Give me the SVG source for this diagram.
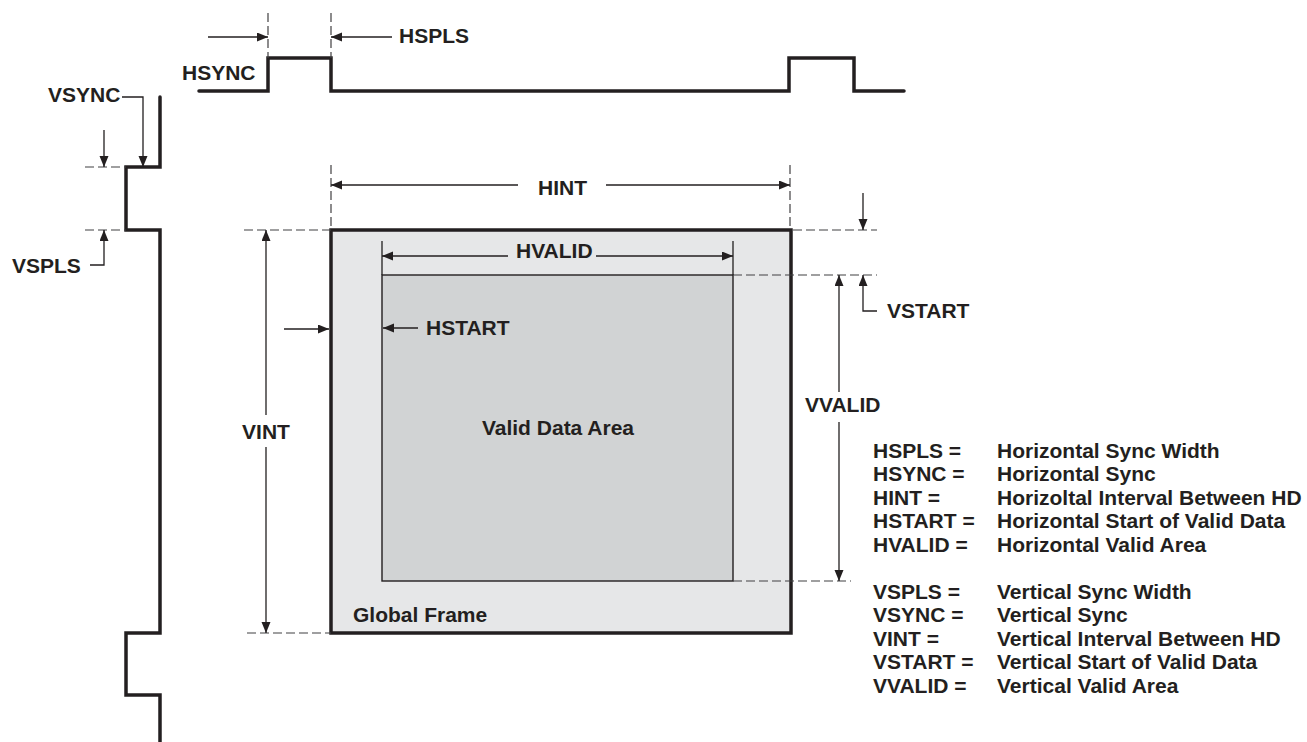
<svg xmlns="http://www.w3.org/2000/svg" width="1307" height="742" viewBox="0 0 1307 742">
<style>
text{font-family:"Liberation Sans",Arial,sans-serif;font-weight:bold;font-size:21px;fill:#231f20}
.w{fill:none;stroke:#231f20;stroke-width:3.5;stroke-linejoin:miter;stroke-linecap:round}
.d{fill:none;stroke:#414042;stroke-width:1.2;stroke-dasharray:9 4}
.a{fill:none;stroke:#231f20;stroke-width:1.3}
.c{text-anchor:middle}
</style>
<defs>
<marker id="ah" markerUnits="userSpaceOnUse" markerWidth="12" markerHeight="10" refX="11" refY="4.5" orient="auto">
<path d="M0,0 L11,4.5 L0,9 z" fill="#231f20"/>
</marker>
</defs>
<rect width="1307" height="742" fill="#fff"/>

<g id="frame">
<rect x="331" y="230" width="460" height="403" fill="#e6e7e8" stroke="#231f20" stroke-width="3.5"/>
<text x="353" y="622">Global Frame</text>
</g>
<g id="valid-area">
<rect x="382" y="275" width="351" height="306" fill="#d1d3d4" stroke="#231f20" stroke-width="1.4"/>
<text class="c" x="558" y="435">Valid Data Area</text>
</g>

<g id="hsync-wave">
<polyline class="w" points="199,91 268,91 268,58 331,58 331,91 789,91 789,58 854,58 854,91 904,91"/>
<text x="182" y="80">HSYNC</text>
</g>
<g id="vsync-wave">
<polyline class="w" points="160,97 160,167 126,167 126,230 160,230 160,633 126,633 126,695 160,695 160,745"/>
<text x="48" y="102">VSYNC</text>
</g>

<g id="connectors">
<line class="d" x1="268" y1="13" x2="268" y2="58"/>
<line class="d" x1="331" y1="13" x2="331" y2="58"/>
<line class="d" x1="331" y1="165" x2="331" y2="230"/>
<line class="d" x1="790" y1="165" x2="790" y2="230"/>
<line class="d" x1="85" y1="167" x2="126" y2="167"/>
<line class="d" x1="85" y1="230" x2="126" y2="230"/>
<line class="d" x1="244" y1="230" x2="331" y2="230"/>
<line class="d" x1="247" y1="633" x2="331" y2="633"/>
<line class="d" x1="793" y1="230" x2="877" y2="230"/>
<line class="d" x1="733" y1="275" x2="877" y2="275"/>
<line class="d" x1="733" y1="581" x2="851" y2="581"/>

<line class="a" x1="208" y1="37" x2="268" y2="37" marker-end="url(#ah)"/>
<line class="a" x1="392" y1="37" x2="331" y2="37" marker-end="url(#ah)"/>
<path class="a" d="M122,97 H143 V167" marker-end="url(#ah)"/>
<line class="a" x1="104" y1="130" x2="104" y2="167" marker-end="url(#ah)"/>
<path class="a" d="M90,265 H104 V230" marker-end="url(#ah)"/>
<line class="a" x1="518" y1="185" x2="331" y2="185" marker-end="url(#ah)"/>
<line class="a" x1="606" y1="185" x2="790" y2="185" marker-end="url(#ah)"/>
<line class="a" x1="863" y1="193" x2="863" y2="230" marker-end="url(#ah)"/>
<line class="a" x1="266" y1="415" x2="266" y2="230" marker-end="url(#ah)"/>
<line class="a" x1="266" y1="447" x2="266" y2="633" marker-end="url(#ah)"/>
<line class="a" x1="284" y1="329" x2="329" y2="329" marker-end="url(#ah)"/>
<line class="a" x1="382" y1="241" x2="382" y2="275"/>
<line class="a" x1="733" y1="241" x2="733" y2="275"/>
<line class="a" x1="508" y1="256" x2="382" y2="256" marker-end="url(#ah)"/>
<line class="a" x1="596" y1="256" x2="733" y2="256" marker-end="url(#ah)"/>
<line class="a" x1="418" y1="328" x2="383" y2="328" marker-end="url(#ah)"/>
<line class="a" x1="839" y1="392" x2="839" y2="275" marker-end="url(#ah)"/>
<line class="a" x1="839" y1="422" x2="839" y2="581" marker-end="url(#ah)"/>
<path class="a" d="M877,311 H863 V275" marker-end="url(#ah)"/>
</g>

<g id="labels">
<text x="399" y="43">HSPLS</text>
<text x="12" y="273">VSPLS</text>
<text x="538" y="195">HINT</text>
<text x="516" y="258">HVALID</text>
<text x="426" y="335">HSTART</text>
<text class="c" x="266" y="439">VINT</text>
<text x="805" y="412">VVALID</text>
<text x="887" y="318">VSTART</text>
</g>

<g id="legend">
<text x="873" y="458">HSPLS =</text><text x="997" y="458">Horizontal Sync Width</text>
<text x="873" y="481">HSYNC =</text><text x="997" y="481">Horizontal Sync</text>
<text x="873" y="505">HINT =</text><text x="997" y="505">Horizoltal Interval Between HD</text>
<text x="873" y="528">HSTART =</text><text x="997" y="528">Horizontal Start of Valid Data</text>
<text x="873" y="552">HVALID =</text><text x="997" y="552">Horizontal Valid Area</text>
<text x="873" y="599">VSPLS =</text><text x="997" y="599">Vertical Sync Width</text>
<text x="873" y="622">VSYNC =</text><text x="997" y="622">Vertical Sync</text>
<text x="873" y="646">VINT =</text><text x="997" y="646">Vertical Interval Between HD</text>
<text x="873" y="669">VSTART =</text><text x="997" y="669">Vertical Start of Valid Data</text>
<text x="873" y="693">VVALID =</text><text x="997" y="693">Vertical Valid Area</text>
</g>
</svg>
